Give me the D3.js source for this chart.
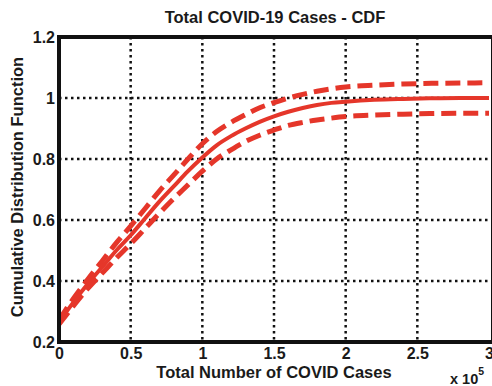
<!DOCTYPE html>
<html><head><meta charset="utf-8">
<script src="https://cdn.jsdelivr.net/npm/d3@7"></script>
<style>body{margin:0;background:#fff;overflow:hidden}svg{display:block}text{font-family:"Liberation Sans",Arial,sans-serif;font-weight:bold;fill:#1a1a1a}</style>
</head><body>
<svg id="c" width="492" height="386"></svg>
<script>
const xVals = [0,0.1,0.2,0.3,0.4,0.5,0.6,0.7,0.8,0.9,1.0,1.1,1.2,1.3,1.4,1.5,1.6,1.7,1.8,1.9,2.0,2.2,2.4,2.6,2.8,3.0];
const cdf   = [0.265,0.33,0.39,0.445,0.50,0.55,0.605,0.66,0.71,0.76,0.805,0.845,0.875,0.90,0.922,0.94,0.955,0.967,0.977,0.984,0.988,0.994,0.997,0.999,1.0,1.0];
const upper = [0.272,0.342,0.405,0.465,0.525,0.58,0.637,0.695,0.747,0.80,0.85,0.89,0.92,0.945,0.968,0.985,1.0,1.012,1.022,1.03,1.036,1.042,1.046,1.048,1.049,1.05];
const lower = [0.258,0.318,0.375,0.425,0.475,0.522,0.572,0.622,0.67,0.715,0.76,0.80,0.83,0.857,0.878,0.895,0.91,0.92,0.928,0.934,0.939,0.944,0.947,0.949,0.95,0.95];
const xTicks = [0,0.5,1,1.5,2,2.5,3];
const xTickLabels = ["0","0.5","1","1.5","2","2.5","3"];
const yTicks = [0.2,0.4,0.6,0.8,1.0,1.2];
const yTickLabels = ["0.2","0.4","0.6","0.8","1","1.2"];
const title = "Total COVID-19 Cases - CDF";
const xLabel = "Total Number of COVID Cases";
const yLabel = "Cumulative Distribution Function";

const svg = d3.select("#c");
const L = 59, R = 489, T = 37, B = 342;
const x = d3.scaleLinear().domain([0,3]).range([L,R]);
const y = d3.scaleLinear().domain([0.2,1.2]).range([B,T]);

// grid
const g = svg.append("g");
g.selectAll("line.gx").data(xTicks.slice(1,-1)).join("line")
  .attr("x1",d=>x(d)).attr("x2",d=>x(d)).attr("y1",T).attr("y2",B)
  .attr("stroke","#111").attr("stroke-width",2.5).attr("stroke-dasharray","2.5,3.5");
g.selectAll("line.gy").data(yTicks.slice(1,-1)).join("line")
  .attr("y1",d=>y(d)).attr("y2",d=>y(d)).attr("x1",L).attr("x2",R)
  .attr("stroke","#111").attr("stroke-width",2.5).attr("stroke-dasharray","2.5,3.5");

const red = "#e5362a";
const line = d3.line().x((d,i)=>x(xVals[i])).y(d=>y(d)).curve(d3.curveMonotoneX);
svg.append("path").attr("d",line(upper)).attr("fill","none").attr("stroke",red).attr("stroke-width",5).attr("stroke-dasharray","15,7");
svg.append("path").attr("d",line(lower)).attr("fill","none").attr("stroke",red).attr("stroke-width",5).attr("stroke-dasharray","15,7");
svg.append("path").attr("d",line(cdf)).attr("fill","none").attr("stroke",red).attr("stroke-width",4);

// axes
const FS = 16;
const xa = svg.append("g").attr("transform",`translate(0,${B})`)
  .call(d3.axisBottom(x).tickValues(xTicks).tickFormat((d,i)=>xTickLabels[i]).tickSize(0).tickPadding(6));
const ya = svg.append("g").attr("transform",`translate(${L},0)`)
  .call(d3.axisLeft(y).tickValues(yTicks).tickFormat((d,i)=>yTickLabels[i]).tickSize(0).tickPadding(4));
[xa,ya].forEach(a=>{a.select(".domain").remove();a.selectAll("text").attr("font-size",FS).attr("font-family","Liberation Sans, Arial, sans-serif").attr("font-weight","bold").attr("fill","#1a1a1a");});
xa.selectAll("text").attr("dy","0.71em");

svg.append("rect").attr("x",L).attr("y",T).attr("width",R-L+4).attr("height",B-T)
  .attr("fill","none").attr("stroke","#111").attr("stroke-width",4);

svg.append("text").attr("x",275).attr("y",23).attr("text-anchor","middle").attr("font-size",16.5).text(title);
svg.append("text").attr("x",274).attr("y",378).attr("text-anchor","middle").attr("font-size",16.5).text(xLabel);
svg.append("text").attr("transform","translate(23,187) rotate(-90)").attr("text-anchor","middle").attr("font-size",16.5).text(yLabel);
const t = svg.append("text").attr("x",450).attr("y",384).attr("font-size",14.5);
t.append("tspan").text("x 10");
t.append("tspan").attr("dy",-9).attr("font-size",10.5).text("5");
</script>
</body></html>
